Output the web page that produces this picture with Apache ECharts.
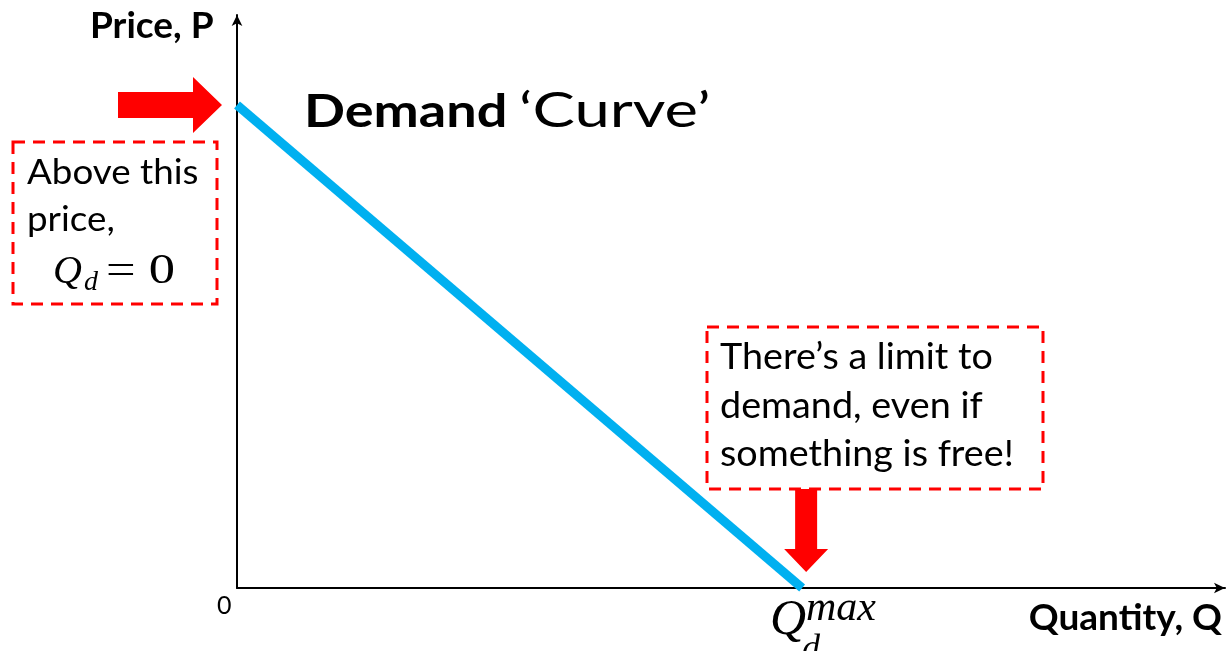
<!DOCTYPE html>
<html>
<head>
<meta charset="utf-8">
<script src="https://cdn.jsdelivr.net/npm/echarts@6/dist/echarts.min.js"></script>
<style>
  html, body { margin: 0; padding: 0; background: #fff; }
  #chart { width: 1230px; height: 651px; }
</style>
</head>
<body>
<div id="chart"></div>
<script>
// axis ranges (abstract units)
const qRange = [0, 100]
const pRange = [0, 100]
// demand line end points
const demandQ = [0, 57.2]
const demandP = [84.3, 0]
// arrow targets: [q, p, direction]
const arrowTargets = [
  [0, 84.3, 'right'],
  [57.2, 0, 'down'],
]
const leftNote = ['Above this', 'price,']
const rightNote = ['There’s a limit to', 'demand, even if', 'something is free!']

const SANS = 'Lato, "Open Sans", sans-serif'
const SERIF = '"Liberation Serif", "DejaVu Serif", serif'
const RED = '#ff0000'

const chart = echarts.init(document.getElementById('chart'))

function renderArrow(params, api) {
  const pt = api.coord([api.value(0), api.value(1)])
  const dir = arrowTargets[params.dataIndex][2]
  let points
  if (dir === 'right') {
    const tx = pt[0] - 15, ty = pt[1]
    points = [
      [tx - 104, ty - 13], [tx - 29, ty - 13], [tx - 29, ty - 28], [tx, ty],
      [tx - 29, ty + 28], [tx - 29, ty + 13], [tx - 104, ty + 13],
    ]
  } else {
    const tx = pt[0] + 4, ty = pt[1] - 16
    points = [
      [tx - 11, ty - 83], [tx + 11, ty - 83], [tx + 11, ty - 23], [tx + 22, ty - 23],
      [tx, ty], [tx - 22, ty - 23], [tx - 11, ty - 23],
    ]
  }
  return {
    type: 'polygon',
    shape: { points: points },
    style: { fill: RED },
  }
}

// text helper: y is the middle of the em box, sx stretches horizontally
function txt(text, x, y, font, opts) {
  opts = opts || {}
  return {
    type: 'text',
    x: x,
    y: y,
    scaleX: opts.sx || 1,
    style: {
      text: text,
      font: font,
      fill: '#000',
      align: opts.align || 'left',
      textAlign: opts.align || 'left',
      verticalAlign: 'middle',
      textVerticalAlign: 'middle',
    },
  }
}

const option = {
  animation: false,
  grid: { left: 237, right: 5, top: 15, bottom: 63 },
  xAxis: {
    type: 'value',
    min: qRange[0],
    max: qRange[1],
    axisLine: {
      show: true,
      symbol: ['none', 'arrow'],
      symbolSize: [8, 11],
      lineStyle: { color: '#000', width: 2 },
    },
    axisTick: { show: false },
    axisLabel: { show: false },
    splitLine: { show: false },
  },
  yAxis: {
    type: 'value',
    min: pRange[0],
    max: pRange[1],
    axisLine: {
      show: true,
      symbol: ['none', 'arrow'],
      symbolSize: [8, 11],
      lineStyle: { color: '#000', width: 2 },
    },
    axisTick: { show: false },
    axisLabel: { show: false },
    splitLine: { show: false },
  },
  series: [
    {
      name: 'Demand',
      type: 'line',
      data: demandQ.map((q, i) => [q, demandP[i]]),
      symbol: 'none',
      lineStyle: { color: '#00b0f0', width: 9 },
      z: 3,
    },
    {
      name: 'arrows',
      type: 'custom',
      renderItem: renderArrow,
      data: arrowTargets.map((d) => [d[0], d[1]]),
      z: 4,
    },
  ],
  graphic: [
    // axis titles
    txt('Price, P', 90, 26, 'bold 37px ' + SANS),
    txt('Quantity, Q', 1222, 618, 'bold 37px ' + SANS, { align: 'right' }),
    txt('0', 217, 606, '25px ' + SANS),
    // title
    txt('Demand', 304, 112, 'bold 45px ' + SANS, { sx: 1.2 }),
    txt('‘Curve’', 519, 112, '48px ' + SANS, { sx: 1.32 }),
    // left note
    {
      type: 'rect',
      shape: { x: 13, y: 142, width: 204, height: 162 },
      style: { fill: 'none', stroke: RED, lineWidth: 3, lineDash: [12, 8] },
    },
    txt(leftNote[0], 27, 173, '35px ' + SANS, { sx: 1.05 }),
    txt(leftNote[1], 27, 220, '35px ' + SANS, { sx: 1.05 }),
    txt('Q', 53, 272, 'italic 40px ' + SERIF),
    txt('d', 84, 283, 'italic 28px ' + SERIF),
    txt('= 0', 106, 272, '42px ' + SERIF, { sx: 1.25 }),
    // right note
    {
      type: 'rect',
      shape: { x: 707, y: 327, width: 336, height: 162 },
      style: { fill: 'none', stroke: RED, lineWidth: 3, lineDash: [12, 8] },
    },
    txt(rightNote[0], 720, 357, '37px ' + SANS, { sx: 1.02 }),
    txt(rightNote[1], 720, 406, '37px ' + SANS, { sx: 1.02 }),
    txt(rightNote[2], 720, 454, '37px ' + SANS, { sx: 1.02 }),
    // Q_d^max label
    txt('Q', 770, 621, 'italic 50px ' + SERIF),
    txt('max', 806, 609, 'italic 42px ' + SERIF),
    txt('d', 802, 650, 'italic 36px ' + SERIF),
  ],
}

chart.setOption(option)
</script>
</body>
</html>
